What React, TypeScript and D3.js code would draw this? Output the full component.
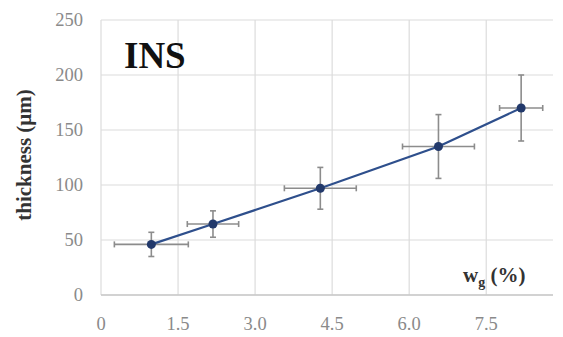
import React from "react";
import * as d3 from "d3";

// Coating thickness versus wg content, with x and y error bars
const wg = [0.98, 2.18, 4.27, 6.57, 8.18];
const thickness = [46, 64.5, 97, 135, 170];
const wgErr = [0.72, 0.5, 0.7, 0.7, 0.42];
const thicknessErr = [11, 12, 19, 29, 30];
const xTicks = [0, 1.5, 3.0, 4.5, 6.0, 7.5];
const xTickLabels = ["0", "1.5", "3.0", "4.5", "6.0", "7.5"];
const yTicks = [0, 50, 100, 150, 200, 250];

const W = 563;
const H = 337;
const margin = { left: 101, right: 10, top: 20, bottom: 42 };

export default function App() {
  const x = d3.scaleLinear().domain([0, 8.8]).range([margin.left, W - margin.right]);
  const y = d3.scaleLinear().domain([0, 250]).range([H - margin.bottom, margin.top]);
  const pts = wg.map((v, i) => ({ x: v, y: thickness[i], ex: wgErr[i], ey: thicknessErr[i] }));
  const line = d3
    .line<{ x: number; y: number }>()
    .x((d) => x(d.x))
    .y((d) => y(d.y));
  const font = "'Liberation Serif', 'Times New Roman', serif";
  const cap = 3;
  return (
    <svg
      width={W}
      height={H}
      style={{ position: "absolute", left: 0, top: 0, background: "#fff" }}
      fontFamily={font}
    >
      {/* gridlines */}
      {yTicks.map((t) => (
        <line key={"gy" + t} x1={x(0)} x2={x(8.8)} y1={y(t)} y2={y(t)} stroke="#dcdcdc" strokeWidth={1.2} />
      ))}
      {xTicks.map((t) => (
        <line key={"gx" + t} x1={x(t)} x2={x(t)} y1={y(0)} y2={y(250)} stroke="#dcdcdc" strokeWidth={1.2} />
      ))}
      <line x1={x(0)} x2={x(8.8)} y1={y(0)} y2={y(0)} stroke="#c8c8c8" strokeWidth={1.5} />
      {/* tick labels */}
      {yTicks.map((t) => (
        <text key={"ty" + t} x={83} y={y(t) + 6} textAnchor="end" fontSize={18.5} fill="#8a8a8a">
          {t}
        </text>
      ))}
      {xTicks.map((t, i) => (
        <text key={"tx" + t} x={x(t)} y={330} textAnchor="middle" fontSize={18.5} fill="#8a8a8a">
          {xTickLabels[i]}
        </text>
      ))}
      {/* error bars */}
      {pts.map((p, i) => (
        <g key={"e" + i} stroke="#8c8c8c" strokeWidth={1.6}>
          <line x1={x(p.x - p.ex)} x2={x(p.x + p.ex)} y1={y(p.y)} y2={y(p.y)} />
          <line x1={x(p.x - p.ex)} x2={x(p.x - p.ex)} y1={y(p.y) - cap} y2={y(p.y) + cap} />
          <line x1={x(p.x + p.ex)} x2={x(p.x + p.ex)} y1={y(p.y) - cap} y2={y(p.y) + cap} />
          <line x1={x(p.x)} x2={x(p.x)} y1={y(p.y - p.ey)} y2={y(p.y + p.ey)} />
          <line x1={x(p.x) - cap} x2={x(p.x) + cap} y1={y(p.y - p.ey)} y2={y(p.y - p.ey)} />
          <line x1={x(p.x) - cap} x2={x(p.x) + cap} y1={y(p.y + p.ey)} y2={y(p.y + p.ey)} />
        </g>
      ))}
      {/* series line and markers */}
      <path d={line(pts) || ""} fill="none" stroke="#2e4f8c" strokeWidth={2.2} />
      {pts.map((p, i) => (
        <circle key={"m" + i} cx={x(p.x)} cy={y(p.y)} r={4.5} fill="#22396b" />
      ))}
      {/* labels */}
      <text x={124} y={68} fontSize={37} fontWeight="bold" fill="#111">
        INS
      </text>
      <text
        transform={`translate(31,155) rotate(-90)`}
        textAnchor="middle"
        fontSize={21}
        fontWeight="bold"
        fill="#333"
      >
        thickness (μm)
      </text>
      <text x={463} y={282} fontSize={21} fontWeight="bold" fill="#333">
        w<tspan fontSize={14} dy={5}>g</tspan>
        <tspan dy={-5}> (%)</tspan>
      </text>
    </svg>
  );
}
